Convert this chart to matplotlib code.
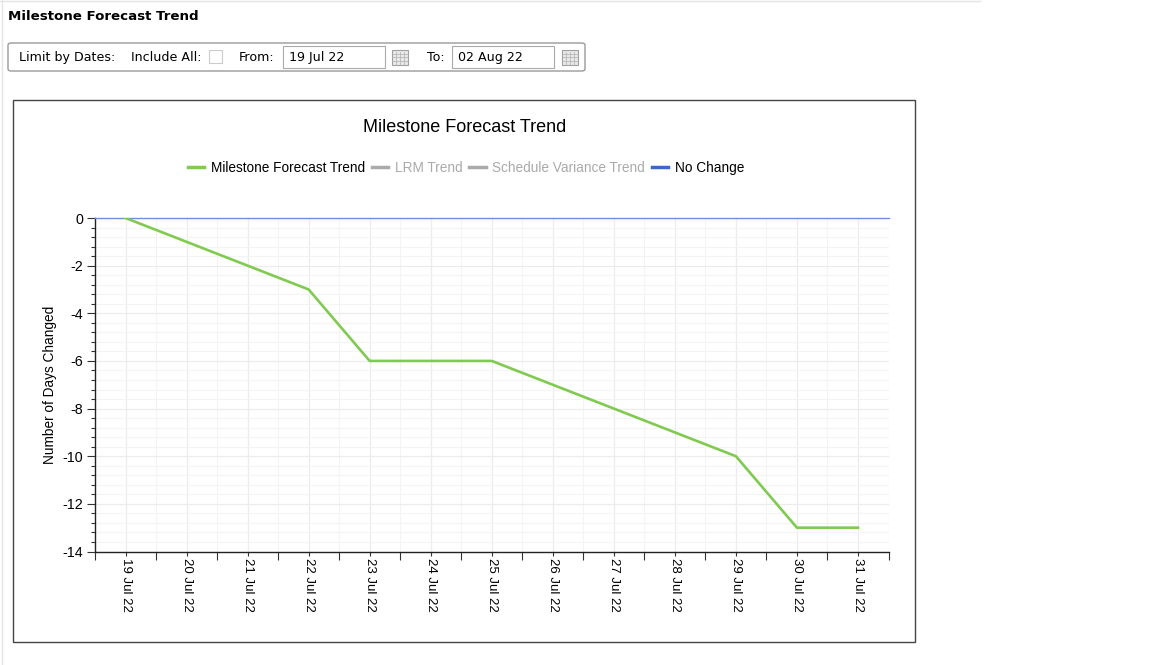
import matplotlib
matplotlib.use("Agg")
import matplotlib.pyplot as plt
from matplotlib.patches import Rectangle, FancyBboxPatch
from matplotlib.lines import Line2D
from matplotlib.ticker import MultipleLocator, FixedLocator
import numpy as np

categories = ["19 Jul 22", "20 Jul 22", "21 Jul 22", "22 Jul 22", "23 Jul 22", "24 Jul 22",
              "25 Jul 22", "26 Jul 22", "27 Jul 22", "28 Jul 22", "29 Jul 22", "30 Jul 22", "31 Jul 22"]
milestone_forecast = [0, -1, -2, -3, -6, -6, -6, -7, -8, -9, -10, -13, -13]
no_change_value = 0
legend_labels = ["Milestone Forecast Trend", "LRM Trend", "Schedule Variance Trend", "No Change"]
y_ticks = [0, -2, -4, -6, -8, -10, -12, -14]
from_date = "19 Jul 22"
to_date = "02 Aug 22"

plt.rcParams['font.family'] = ['Liberation Sans', 'DejaVu Sans']

W, H = 1170, 665
fig = plt.figure(figsize=(W / 100, H / 100), dpi=100)
fig.patch.set_facecolor("white")

def px(x, y):
    return x / W, 1 - y / H

# page decorations
fig.add_artist(Line2D([0, 980 / W], [1 - 1 / H, 1 - 1 / H], color="#e4e4e4", lw=1))
fig.add_artist(Line2D([2 / W, 2 / W], [0, 1], color="#e4e4e4", lw=1))
fig.text(*px(8, 17), "Milestone Forecast Trend", fontsize=9.6, fontweight="bold",
         family=['DejaVu Sans'], va="center", ha="left")

# filter box
fs_f = 9.1
fig.add_artist(FancyBboxPatch(px(8, 71), 577 / W, 28 / H, boxstyle="round,pad=0,rounding_size=0.003",
                              transform=fig.transFigure, fc="white", ec="#9a9a9a", lw=1))
fig.text(*px(19, 57.5), "Limit by Dates:", fontsize=fs_f, family=['DejaVu Sans'], va="center")
fig.text(*px(131, 57.5), "Include All:", fontsize=fs_f, family=['DejaVu Sans'], va="center")
fig.add_artist(Rectangle(px(209, 63), 13 / W, 13 / H, transform=fig.transFigure,
                         fc="white", ec="#cccccc", lw=0.8))
fig.text(*px(239, 57.5), "From:", fontsize=fs_f, family=['DejaVu Sans'], va="center")
fig.add_artist(Rectangle(px(283, 68), 102 / W, 22 / H, transform=fig.transFigure,
                         fc="white", ec="#aaaaaa", lw=0.8))
fig.text(*px(289, 58), from_date, fontsize=fs_f, family=['DejaVu Sans'], va="center")
fig.text(*px(427, 57.5), "To:", fontsize=fs_f, family=['DejaVu Sans'], va="center")
fig.add_artist(Rectangle(px(452, 68), 102 / W, 22 / H, transform=fig.transFigure,
                         fc="white", ec="#aaaaaa", lw=0.8))
fig.text(*px(458, 58), to_date, fontsize=fs_f, family=['DejaVu Sans'], va="center")
for cx in (400, 570):
    fig.add_artist(Rectangle(px(cx - 8, 65), 16 / W, 15 / H, transform=fig.transFigure,
                             fc="#e8e8e8", ec="#a0a0a0", lw=0.8))
    for k in range(1, 4):
        fig.add_artist(Line2D([(cx - 8 + 4 * k) / W] * 2, [1 - 65 / H, 1 - 52 / H],
                              color="#b0b0b0", lw=0.5))
        fig.add_artist(Line2D([(cx - 8) / W, (cx + 8) / W], [1 - (50 + 3.7 * k) / H] * 2,
                              color="#b0b0b0", lw=0.5))

# chart frame (behind the axes)
fig.add_artist(Rectangle(px(13, 642), 902 / W, 542 / H, transform=fig.transFigure,
                         fc="white", ec="#444444", lw=1, zorder=-5))
fig.text(*px(465, 128), "Milestone Forecast Trend", fontsize=13, ha="center", va="center")

# axes
l, r, t, b = 95, 888.5, 218, 551.5
ax = fig.add_axes([l / W, 1 - b / H, (r - l) / W, (b - t) / H])
ax.set_zorder(2)
x = np.arange(len(categories))
ax.set_xlim(-0.5, len(categories) - 0.5)
ax.set_ylim(-14, 0)

ax.xaxis.set_major_locator(FixedLocator(x))
ax.xaxis.set_minor_locator(FixedLocator(np.arange(len(categories) + 1) - 0.5))
ax.set_xticklabels(categories, rotation=-90, fontsize=9.5)
ax.yaxis.set_major_locator(FixedLocator(y_ticks))
ax.yaxis.set_minor_locator(MultipleLocator(0.4))
ax.set_yticklabels([str(v) for v in y_ticks], fontsize=10.3)

ax.grid(which="major", color="#ececec", lw=0.9)
ax.grid(which="minor", color="#f4f4f4", lw=0.8)
ax.set_axisbelow(True)

ax.tick_params(axis="x", which="major", length=3, width=0.8, color="#333333", pad=2)
ax.tick_params(axis="x", which="minor", length=6, width=0.8, color="#333333")
ax.tick_params(axis="y", which="major", length=6, width=0.8, color="#333333", pad=2.5)
ax.tick_params(axis="y", which="minor", length=3, width=0.8, color="#333333")

for s in ("top", "right"):
    ax.spines[s].set_visible(False)
for s in ("left", "bottom"):
    ax.spines[s].set_color("#222222")
    ax.spines[s].set_linewidth(1)

ax.set_ylabel("Number of Days Changed", fontsize=9.8, labelpad=4)

ax.axhline(no_change_value, color="#6f8fe0", lw=1, zorder=3, clip_on=False)
ax.plot(x, milestone_forecast, color="#7fca4f", lw=1.9, zorder=4)

# legend
handles = [Line2D([], [], color=c, lw=2.5) for c in ("#7fca4f", "#aaaaaa", "#aaaaaa", "#3d66cc")]
leg = fig.legend(handles, legend_labels, loc="center", bbox_to_anchor=px(466, 168), ncol=4,
                 frameon=False, fontsize=9.8, handlelength=1.2, handletextpad=0.5,
                 columnspacing=0.5)
for txt, col in zip(leg.get_texts(), ("black", "#aaaaaa", "#aaaaaa", "black")):
    txt.set_color(col)

fig.savefig("out.png", dpi=100)
